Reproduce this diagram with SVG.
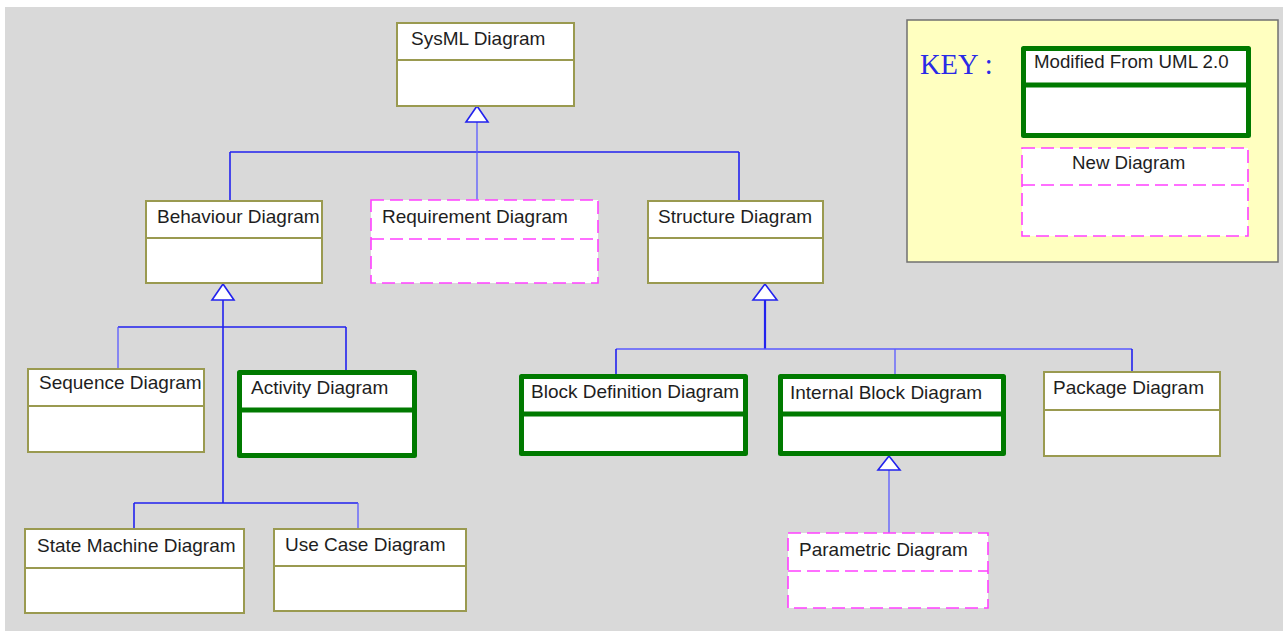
<svg xmlns="http://www.w3.org/2000/svg" width="1283" height="631" viewBox="0 0 1283 631">
  <style>
    .lbl { font-family: "Liberation Sans", Arial, sans-serif; font-size: 19px; fill: #1e1e1e; }
    .uml { fill: #ffffff; stroke: #9a9a50; stroke-width: 2; }
    .uml-div { stroke: #9a9a50; stroke-width: 2; }
    .mod { fill: #ffffff; stroke: #007a00; stroke-width: 5; stroke-linejoin: round; }
    .mod-div { stroke: #007a00; stroke-width: 5; }
    .new { fill: #ffffff; stroke: #ff40ff; stroke-width: 1.6; stroke-dasharray: 13 6; }
    .wire { fill: none; stroke: #2222ee; stroke-width: 1.6; }
    .wire-thin { fill: none; stroke: #5a5aff; stroke-width: 1.3; }
    .head { fill: #ffffff; stroke: #2222ee; stroke-width: 1.6; stroke-linejoin: miter; }
  </style>

  <!-- canvas -->
  <rect x="0" y="0" width="1283" height="631" fill="#ffffff"/>
  <rect x="5" y="7" width="1278" height="624" fill="#d9d9d9"/>

  <!-- connectors: generalisation trees -->
  <g id="connectors">
    <!-- SysML Diagram children -->
    <path class="wire" d="M230 152 H739 M230 152 V200 M739 152 V200"/>
    <path class="wire-thin" d="M477 122 V200"/>
    <polygon class="head" points="477,106 466,122 488,122"/>

    <!-- Behaviour Diagram children -->
    <path class="wire" d="M223 300 V503 M118 327 H346 M346 327 V371 M134 503 H358 M134 503 V529"/>
    <path class="wire-thin" d="M118 327 V370 M358 503 V529"/>
    <polygon class="head" points="223,284 212,300 234,300"/>

    <!-- Structure Diagram children -->
    <path class="wire" d="M765 300 V349" style="stroke-width:2.2"/>
    <path class="wire-thin" d="M616 349 H1132 M895 349 V374"/>
    <path class="wire" d="M616 349 V374 M1132 349 V372"/>
    <polygon class="head" points="765,284 753,300 777,300"/>

    <!-- Internal Block Diagram child -->
    <path class="wire-thin" d="M889 470 V533"/>
    <polygon class="head" points="889,456 878,470 900,470"/>
  </g>

  <!-- nodes -->
  <g id="sysml-diagram">
    <rect class="uml" x="397" y="23" width="177" height="83"/>
    <line class="uml-div" x1="397" y1="60" x2="574" y2="60"/>
    <text class="lbl" x="411" y="45">SysML Diagram</text>
  </g>

  <g id="behaviour-diagram">
    <rect class="uml" x="146" y="201" width="176" height="82"/>
    <line class="uml-div" x1="146" y1="238" x2="322" y2="238"/>
    <text class="lbl" x="157" y="223">Behaviour Diagram</text>
  </g>

  <g id="requirement-diagram">
    <rect class="new" x="371" y="200" width="227" height="83"/>
    <line class="new" x1="371" y1="239" x2="598" y2="239"/>
    <text class="lbl" x="382" y="223">Requirement Diagram</text>
  </g>

  <g id="structure-diagram">
    <rect class="uml" x="648" y="201" width="175" height="82"/>
    <line class="uml-div" x1="648" y1="238" x2="823" y2="238"/>
    <text class="lbl" x="658" y="223">Structure Diagram</text>
  </g>

  <g id="sequence-diagram">
    <rect class="uml" x="28" y="369" width="176" height="83"/>
    <line class="uml-div" x1="28" y1="406" x2="204" y2="406"/>
    <text class="lbl" x="39" y="389">Sequence Diagram</text>
  </g>

  <g id="activity-diagram">
    <rect class="mod" x="239.5" y="372.5" width="175" height="83"/>
    <line class="mod-div" x1="239.5" y1="410" x2="414.5" y2="410"/>
    <text class="lbl" x="251" y="394">Activity Diagram</text>
  </g>

  <g id="state-machine-diagram">
    <rect class="uml" x="25" y="529" width="219" height="84"/>
    <line class="uml-div" x1="25" y1="568" x2="244" y2="568"/>
    <text class="lbl" x="37" y="552">State Machine Diagram</text>
  </g>

  <g id="use-case-diagram">
    <rect class="uml" x="274" y="529" width="192" height="82"/>
    <line class="uml-div" x1="274" y1="566" x2="466" y2="566"/>
    <text class="lbl" x="285" y="551">Use Case Diagram</text>
  </g>

  <g id="block-definition-diagram">
    <rect class="mod" x="521.5" y="376.5" width="224" height="77"/>
    <line class="mod-div" x1="521.5" y1="414" x2="745.5" y2="414"/>
    <text class="lbl" x="531" y="398">Block Definition Diagram</text>
  </g>

  <g id="internal-block-diagram">
    <rect class="mod" x="780.5" y="376.5" width="223" height="77"/>
    <line class="mod-div" x1="780.5" y1="414" x2="1003.5" y2="414"/>
    <text class="lbl" x="790" y="399">Internal Block Diagram</text>
  </g>

  <g id="package-diagram">
    <rect class="uml" x="1044" y="372" width="176" height="84"/>
    <line class="uml-div" x1="1044" y1="410" x2="1220" y2="410"/>
    <text class="lbl" x="1053" y="394">Package Diagram</text>
  </g>

  <g id="parametric-diagram">
    <rect class="new" x="788" y="533" width="200" height="75"/>
    <line class="new" x1="788" y1="571" x2="988" y2="571"/>
    <text class="lbl" x="799" y="556">Parametric Diagram</text>
  </g>

  <!-- legend -->
  <g id="key">
    <rect x="907" y="20" width="371" height="242" fill="#ffffc0" stroke="#707070" stroke-width="1.5"/>
    <text x="920" y="74" font-family="'Liberation Serif', 'Times New Roman', serif" font-size="28.5" fill="#2a2ae6">KEY :</text>
    <g id="key-modified">
      <rect class="mod" x="1023.5" y="48.5" width="225" height="87"/>
      <line class="mod-div" x1="1023.5" y1="85" x2="1248.5" y2="85"/>
      <text class="lbl" x="1034" y="68" style="font-size:18.7px">Modified From UML 2.0</text>
    </g>
    <g id="key-new">
      <rect class="new" x="1022" y="148" width="226" height="88"/>
      <line class="new" x1="1022" y1="185" x2="1248" y2="185"/>
      <text class="lbl" x="1072" y="169" style="font-size:18.7px">New Diagram</text>
    </g>
  </g>
</svg>
